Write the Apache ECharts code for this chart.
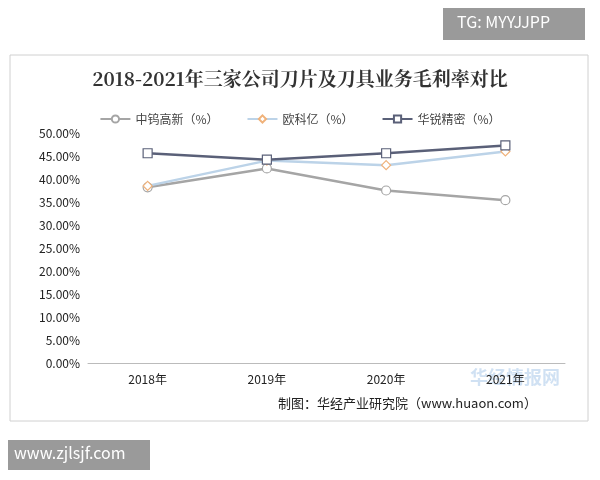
<!DOCTYPE html>
<html><head><meta charset="utf-8">
<script src="https://cdn.jsdelivr.net/npm/echarts@6/dist/echarts.min.js"></script>
<style>body{margin:0;background:#fff}#c{width:600px;height:480px}</style></head>
<body><div id="c"></div>
<script>
const categories=['2018年','2019年','2020年','2021年'];
const zw=[38.2,42.3,37.5,35.4];
const oky=[38.5,44.0,43.0,46.0];
const hr=[45.6,44.2,45.6,47.3];
const yTicks=[0,5,10,15,20,25,30,35,40,45,50];
const F='"Noto Sans CJK SC"';
const chart=echarts.init(document.getElementById('c'));
const mk=(name,data,color,sym,lw,bc)=>({name,type:'line',data,symbol:sym,symbolSize:9,
 lineStyle:{color,width:lw},itemStyle:{color:'#fff',borderColor:bc||color,borderWidth:1.2}});
chart.setOption({
 animation:false,
 graphic:[
  {type:'rect',shape:{x:10,y:55,width:578,height:366},style:{fill:'none',stroke:'#d0d0d0',lineWidth:1}},
  {type:'rect',shape:{x:443,y:8,width:142,height:32},style:{fill:'#9a9a9a'}},
  {type:'text',left:457,top:14,style:{text:'TG: MYYJJPP',fill:'#fff',font:'16px '+F}},
  {type:'rect',shape:{x:8,y:440,width:142,height:30},style:{fill:'#9a9a9a'}},
  {type:'text',left:14,top:445,style:{text:'www.zjlsjf.com',fill:'#fff',font:'16px '+F}},
  {type:'text',left:470,top:368,style:{text:'华经情报网',fill:'rgba(120,170,220,0.35)',font:'bold 18px '+F}},
  {type:'text',left:278,top:397,style:{text:'制图：华经产业研究院（www.huaon.com）',fill:'#222',font:'13px '+F}}
 ],
 title:{text:'2018-2021年三家公司刀片及刀具业务毛利率对比',left:'center',top:64,
  textStyle:{fontFamily:'"Noto Serif CJK SC","Noto Sans CJK SC"',fontSize:19,fontWeight:'bold',color:'#333'}},
 legend:{top:108,left:'center',itemWidth:30,itemHeight:9,itemGap:28,
  textStyle:{fontFamily:F,fontSize:12,color:'#444'},
  formatter:n=>n+'（%）',
  data:['中钨高新','欧科亿','华锐精密']},
 grid:{left:88,right:35,top:133,bottom:117},
 xAxis:{type:'category',data:categories,boundaryGap:true,
  axisLine:{lineStyle:{color:'#bbb'}},axisTick:{show:false},
  axisLabel:{color:'#222',fontFamily:F,fontSize:12,margin:10}},
 yAxis:{type:'value',min:0,max:50,interval:5,
  axisLine:{show:false},axisTick:{show:false},splitLine:{show:false},
  axisLabel:{color:'#222',fontFamily:F,fontSize:12,formatter:v=>v.toFixed(2)+'%'}},
 series:[mk('中钨高新',zw,'#a5a5a5','circle',2.5),
  mk('欧科亿',oky,'#bcd3e8','diamond',2.5,'#f0b27a'),
  mk('华锐精密',hr,'#5a6078','rect',2.5)]
});
</script></body></html>
